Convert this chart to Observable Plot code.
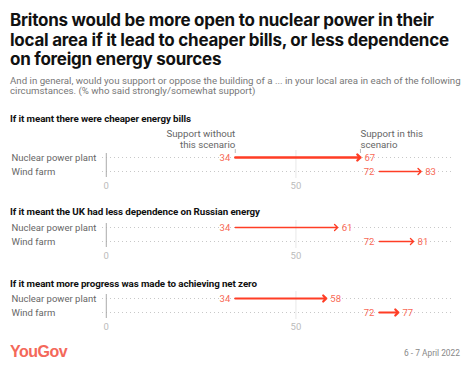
<!DOCTYPE html>
<html>
<head>
<meta charset="utf-8">
<script src="https://cdn.jsdelivr.net/npm/d3@7"></script>
<script src="https://cdn.jsdelivr.net/npm/@observablehq/plot@0.6"></script>
<style>
  html, body { margin: 0; padding: 0; background: #fff; }
  body { width: 472px; height: 370px; overflow: hidden; font-family: Roboto, "Noto Sans", sans-serif; }
  .title { margin: 11px 0 0 10px; font-family: Inter, Roboto, sans-serif; font-weight: 700; font-size: 17px; line-height: 19.5px; color: #111; letter-spacing: -0.25px; white-space: nowrap; }
  .sub { margin: 6px 0 0 10px; font-size: 9.7px; line-height: 10px; color: #777; white-space: nowrap; }
  .head { margin-left: 10px; font-size: 9.8px; line-height: 12px; font-weight: 700; color: #111; white-space: nowrap; letter-spacing: -0.1px; }
  .panel svg { display: block; overflow: visible; }
  .footer { position: absolute; top: 343px; left: 0; width: 472px; height: 18px; }
  .logo { position: absolute; left: 10px; top: 0; font-family: "Liberation Sans", Arial, sans-serif; font-weight: 700; font-size: 16px; letter-spacing: -0.5px; color: #f4685a; }
  .date { position: absolute; right: 12px; top: 5px; font-size: 8.4px; color: #888; }
</style>
</head>
<body>
<div class="title">Britons would be more open to nuclear power in their<br>local area if it lead to cheaper bills, or less dependence<br>on foreign energy sources</div>
<div class="sub">And in general, would you support or oppose the building of a ... in your local area in each of the following<br>circumstances. (% who said strongly/somewhat support)</div>
<div id="panels"></div>
<div class="footer"><div class="logo">YouGov</div><div class="date">6 - 7 April 2022</div></div>
<script>
// ---- data ----
const rows = ["Nuclear power plant", "Wind farm"];
const scenarios = [
  "If it meant there were cheaper energy bills",
  "If it meant the UK had less dependence on Russian energy",
  "If it meant more progress was made to achieving net zero"
];
const supportWithout = [34, 72];
const supportWith = [
  [67, 83],
  [61, 81],
  [58, 77]
];
const xTicks = [0, 50];
const annotationWithout = "Support without\nthis scenario";
const annotationWith = "Support in this\nscenario";

// ---- styling ----
const arrowWidths = [[2.4, 1.4], [1.3, 1.3], [2.2, 2.2]];
const headMargins = [17, 10, 12];
const plotTops = [25, 2, 1];
const red = "#ff3d25";
const labelRed = "#f96a57";
const fs = 9.5;

const container = document.getElementById("panels");
scenarios.forEach((title, i) => {
  const data = rows.map((r, j) => ({row: r, before: supportWithout[j], after: supportWith[i][j], w: arrowWidths[i][j]}));
  const wrap = document.createElement("div");
  wrap.className = "panel";
  const h = document.createElement("div");
  h.className = "head";
  h.style.marginTop = headMargins[i] + "px";
  h.textContent = title;
  wrap.appendChild(h);
  const mt = plotTops[i];
  const marks = [
    Plot.ruleY(rows, {y: d => d, stroke: "#c8c8c8", strokeDasharray: "1,3", strokeWidth: 1}),
    Plot.ruleX([50], {stroke: "#e8e8e8"}),
    Plot.ruleX([0], {stroke: "#aaa", insetTop: 3, insetBottom: 1}),
    Plot.axisX({ticks: xTicks, tickSize: 0, tickPadding: 4, color: "#bbb", label: null, fontSize: fs}),
    Plot.text(rows, {y: d => d, frameAnchor: "left", textAnchor: "start", dx: -91, fill: "#666", fontSize: fs}),
    ...data.map(d => Plot.arrow([d], {x1: "before", x2: "after", y1: "row", y2: "row", stroke: red, strokeWidth: d.w, headLength: 6.5 / d.w, headAngle: 88})),
    Plot.text(data, {x: "before", y: "row", text: d => String(d.before), textAnchor: "end", dx: -5, fill: labelRed, fontSize: fs}),
    Plot.text(data, {x: "after", y: "row", text: d => String(d.after), textAnchor: "start", dx: 4, fill: labelRed, fontSize: fs})
  ];
  if (i === 0) {
    const first = [data[0]];
    marks.push(
      Plot.tickX(first, {x: "before", y: "row", insetBottom: 10, dy: -1, stroke: "#bbb"}),
      Plot.tickX(first, {x: "after", y: "row", insetBottom: 10, dy: -1, stroke: "#bbb"}),
      Plot.text(first, {x: "before", y: "row", text: () => annotationWithout, textAnchor: "end", lineAnchor: "bottom", dy: -10, fill: "#666", fontSize: 9.7, lineHeight: 1.05}),
      Plot.text(first, {x: "after", y: "row", text: () => annotationWith, textAnchor: "start", lineAnchor: "bottom", dy: -10, fill: "#666", fontSize: 9.7, lineHeight: 1.05})
    );
  }
  const chart = Plot.plot({
    width: 472,
    height: mt + 28 + 18,
    marginTop: mt,
    marginBottom: 18,
    marginLeft: 102,
    marginRight: 21,
    x: {domain: [-1, 91], axis: null},
    y: {type: "band", domain: rows, axis: null, padding: 0},
    style: {fontFamily: "Roboto, sans-serif", fontSize: "9.5px", overflow: "visible", background: "transparent"},
    marks
  });
  wrap.appendChild(chart);
  container.appendChild(wrap);
});
</script>
</body>
</html>
